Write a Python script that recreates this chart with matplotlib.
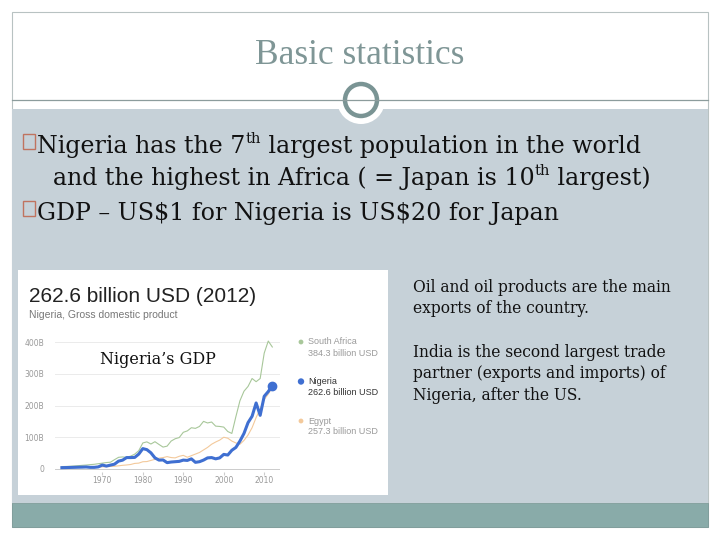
import matplotlib
matplotlib.use("Agg")
import matplotlib.pyplot as plt
from matplotlib.patches import Rectangle, Circle

# --- data (billion USD) ---
years = list(range(1960, 2013))
nigeria = [4.2, 4.5, 4.9, 5.2, 5.6, 5.9, 6.4, 5.2, 5.2, 6.6,
           12.5, 9.2, 12.3, 15.2, 24.8, 27.8, 36.0, 36.0, 36.5, 47.0,
           64.2, 61.0, 51.0, 35.0, 28.0, 28.5, 20.0, 22.0, 23.0, 24.0,
           28.0, 27.0, 32.0, 21.0, 23.0, 28.0, 35.0, 36.0, 32.0, 35.0,
           46.0, 44.0, 59.0, 68.0, 88.0, 112.0, 146.0, 166.0, 208.0, 169.0,
           229.0, 244.0, 262.6]
south_africa = [7.6, 8.0, 8.5, 9.4, 10.4, 11.5, 12.4, 13.8, 14.8, 16.7,
                18.4, 20.3, 21.4, 29.3, 36.8, 38.0, 36.6, 40.6, 46.7, 57.8,
                82.0, 85.5, 78.7, 86.0, 77.3, 69.0, 72.0, 88.0, 95.3, 99.0,
                115.6, 120.0, 130.0, 128.0, 134.0, 150.0, 145.0, 148.0, 135.0, 134.0,
                132.0, 118.0, 112.0, 165.0, 215.0, 245.0, 260.0, 285.0, 275.0, 285.0,
                365.0, 403.0, 384.3]
egypt = [3.9, 4.2, 4.4, 4.9, 5.5, 5.1, 5.3, 5.4, 5.6, 6.2,
         6.9, 7.4, 8.1, 8.7, 10.0, 11.6, 12.7, 14.2, 17.6, 18.5,
         22.9, 23.4, 27.0, 30.5, 34.1, 36.0, 39.0, 36.0, 35.0, 40.0,
         43.0, 37.0, 42.0, 47.0, 52.0, 60.0, 68.0, 78.0, 85.0, 91.0,
         100.0, 97.0, 88.0, 82.0, 78.0, 90.0, 107.0, 130.0, 162.0, 189.0,
         219.0, 236.0, 257.3]

y_ticks = [0, 100, 200, 300, 400]
y_labels = ["0", "100B", "200B", "300B", "400B"]
x_ticks = [1970, 1980, 1990, 2000, 2010]

legend_names = ["South Africa", "Nigeria", "Egypt"]
legend_values = ["384.3 billion USD", "262.6 billion USD", "257.3 billion USD"]
legend_colors = ["#a8c79a", "#3f6fd1", "#f3c99b"]

SERIF = "Liberation Serif"
BODY = "DejaVu Serif"
SANS = "Liberation Sans"
plt.rcParams["text.parse_math"] = False

fig = plt.figure(figsize=(7.2, 5.4), dpi=100)
bg = fig.add_axes([0, 0, 1, 1])
bg.set_xlim(0, 720)
bg.set_ylim(540, 0)
bg.axis("off")
renderer = fig.canvas.get_renderer()


def text_width(t):
    return t.get_window_extent(renderer).width


def rich(x, y, parts, size, color="#111111"):
    # parts: (string, is_superscript)
    for s, sup in parts:
        fs = size * 0.62 if sup else size
        yy = y - size * 0.6 if sup else y
        t = bg.text(x, yy, s + "|", fontsize=fs, family=BODY, color=color,
                    va="baseline", ha="left")
        w = text_width(t)
        bar = bg.text(0, 0, "|", fontsize=fs, family=BODY)
        w -= text_width(bar)
        bar.remove()
        t.set_text(s)
        x += w


# slide frame
bg.add_patch(Rectangle((12, 12), 696, 515, facecolor="white", edgecolor="#b8c2c2", lw=0.8))
bg.add_patch(Rectangle((12, 109), 696, 394, facecolor="#c6d1d8", edgecolor="none"))
bg.add_patch(Rectangle((12, 503), 696, 24, facecolor="#89aba9", edgecolor="#7c9a98", lw=0.6))
bg.plot([12, 708], [99.5, 99.5], color="#8c9c9c", lw=0.9)
bg.add_patch(Circle((361, 100), 24, facecolor="white", edgecolor="none"))
bg.add_patch(Circle((361, 100), 16, facecolor="white", edgecolor="#7a9494", lw=3.2))

bg.text(360, 64, "Basic statistics", fontsize=25.5, family=SERIF, color="#7f9696",
        ha="center", va="baseline")

# bullets
for by in (134, 201):
    bg.add_patch(Rectangle((23, by), 12, 15, facecolor="none", edgecolor="#c0735f", lw=1.0))

rich(37, 153, [("Nigeria has the 7", False), ("th", True),
               (" largest population in the world", False)], 17.15)
rich(53, 185, [("and the highest in Africa ( = Japan is 10", False), ("th", True),
               (" largest)", False)], 17.15)
rich(37, 220, [("GDP \u2013 US$1 for Nigeria is US$20 for Japan", False)], 17.15)

right_lines = [("Oil and oil products are the main", 292),
               ("exports of the country.", 313),
               ("India is the second largest trade", 357),
               ("partner (exports and imports) of", 378),
               ("Nigeria, after the US.", 400)]
for s, yy in right_lines:
    bg.text(413, yy, s, fontsize=11.2, family=BODY, color="#111111", va="baseline")

# embedded chart panel
bg.add_patch(Rectangle((18, 270), 370, 225, facecolor="white", edgecolor="none"))
bg.text(29, 296, "262.6 billion USD (2012)", fontsize=15, family=SANS, color="#222222",
        va="center")
bg.text(29, 315, "Nigeria, Gross domestic product", fontsize=7.5, family=SANS,
        color="#777777", va="center")

px_per_b = 127 / 400
y_lo, y_hi = -10, 420
x_lo, x_hi = 1958.3, 2013.9
top = 469 - y_hi * px_per_b
bottom = 469 - y_lo * px_per_b
ax = fig.add_axes([55 / 720, 1 - bottom / 540, 225 / 720, (bottom - top) / 540])
ax.set_facecolor("none")
ax.set_xlim(x_lo, x_hi)
ax.set_ylim(y_lo, y_hi)
for s in ax.spines.values():
    s.set_visible(False)
for v in y_ticks:
    ax.axhline(v, color="#cccccc" if v == 0 else "#ebebeb", lw=0.7, zorder=0)
ax.set_yticks(y_ticks)
ax.set_yticklabels(y_labels)
ax.set_xticks(x_ticks)
ax.set_xticklabels([str(v) for v in x_ticks])
ax.tick_params(axis="y", length=0, labelsize=5.5, labelcolor="#999999", pad=8)
ax.tick_params(axis="x", length=2, color="#cccccc", labelsize=5.5,
               labelcolor="#999999", pad=1)
ax.plot(years, south_africa, color=legend_colors[0], lw=0.8, zorder=2)
ax.plot(years, egypt, color=legend_colors[2], lw=0.8, zorder=2)
ax.plot(years, nigeria, color=legend_colors[1], lw=2.2, zorder=3,
        solid_joinstyle="round")
ax.plot(years[-1:], nigeria[-1:], "o", color=legend_colors[1], ms=6, zorder=4)

bg.text(100, 359, "Nigeria\u2019s GDP", fontsize=11.5, family=BODY, color="#111111",
        va="center")

for i, (name, val, col) in enumerate(zip(legend_names, legend_values, legend_colors)):
    yy = 342 + i * 39.5
    big = name == "Nigeria"
    bg.add_patch(Circle((301, yy), 3.2 if big else 2.4, facecolor=col, edgecolor="none"))
    bg.text(308, yy, name, fontsize=6.5, family=SANS,
            color="#333333" if big else "#9a9a9a", va="center")
    bg.text(308, yy + 11, val, fontsize=6.5, family=SANS,
            color="#333333" if big else "#9a9a9a", va="center")

fig.savefig("out.png", dpi=100)
